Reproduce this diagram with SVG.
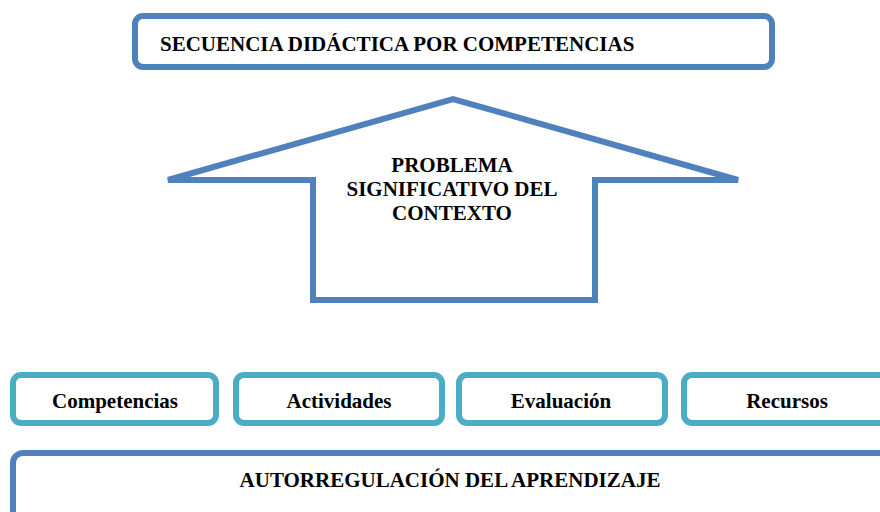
<svg xmlns="http://www.w3.org/2000/svg" width="880" height="512" viewBox="0 0 880 512">
<style>
.t{font-family:"Liberation Serif","Times New Roman",serif;font-weight:bold;fill:#000;font-size:21px}
.blue{fill:#fff;stroke:#4F81BD;stroke-width:6}
.cyan{fill:#fff;stroke:#4BACC6;stroke-width:6}
</style>
<rect width="880" height="512" fill="#fff"/>
<g id="top">
<rect class="blue" x="135" y="16" width="637" height="51" rx="8"/>
<text class="t" x="160" y="51">SECUENCIA DIDÁCTICA POR COMPETENCIAS</text>
</g>
<g id="arrow">
<polygon class="blue" stroke-linejoin="miter" points="168,180 453,99 738,180 595,180 595,300 313,300 313,180"/>
<text class="t" text-anchor="middle" x="452" y="172">PROBLEMA</text>
<text class="t" text-anchor="middle" x="452" y="196">SIGNIFICATIVO DEL</text>
<text class="t" text-anchor="middle" x="452" y="220">CONTEXTO</text>
</g>
<g id="competencias">
<rect class="cyan" x="13" y="375" width="203" height="48" rx="8"/>
<text class="t" text-anchor="middle" x="115" y="408">Competencias</text>
</g>
<g id="actividades">
<rect class="cyan" x="236" y="375" width="206" height="48" rx="8"/>
<text class="t" text-anchor="middle" x="339" y="408">Actividades</text>
</g>
<g id="evaluacion">
<rect class="cyan" x="459" y="375" width="206" height="48" rx="8"/>
<text class="t" text-anchor="middle" x="561" y="408">Evaluación</text>
</g>
<g id="recursos">
<rect class="cyan" x="684" y="375" width="210" height="48" rx="8"/>
<text class="t" text-anchor="middle" x="787" y="408">Recursos</text>
</g>
<g id="autorregulacion">
<rect class="blue" x="13" y="453" width="890" height="80" rx="10"/>
<text class="t" text-anchor="middle" x="450" y="487">AUTORREGULACIÓN DEL APRENDIZAJE</text>
</g>
</svg>
